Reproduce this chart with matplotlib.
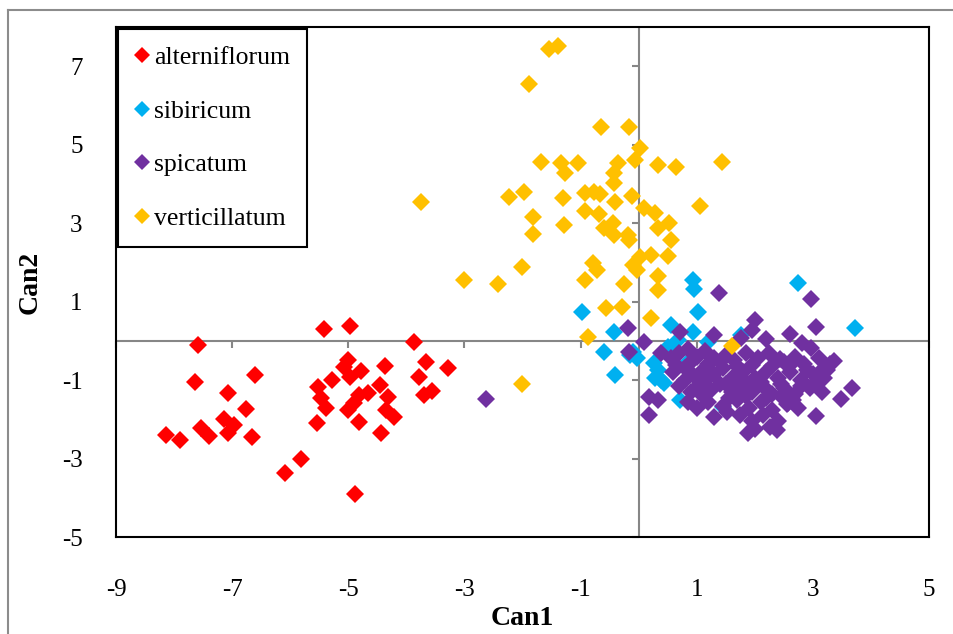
import matplotlib
matplotlib.use("Agg")
import matplotlib.pyplot as plt
from matplotlib.lines import Line2D

# ---------------------------------------------------------------------------
# Data (canonical scores)
# ---------------------------------------------------------------------------
alt_x = [-7.59, -5.42, -4.97, -3.87, -7.64, -6.61, -7.07, -6.76, -7.14, -6.97,
         -7.07, -7.54, -7.40, -8.14, -7.90, -6.66, -5.82, -6.09, -4.89,
         -5.01, -5.08, -4.97, -4.78, -4.37, -5.28, -5.52, -5.47, -5.39, -5.54,
         -4.82, -4.66, -4.90, -5.01, -4.82, -4.46, -4.32, -4.35, -4.22, -4.44,
         -3.67, -3.29, -3.79, -3.70, -3.56]
alt_y = [-0.10, 0.31, 0.38, -0.03, -1.04, -0.87, -1.33, -1.73, -1.99, -2.14,
         -2.34, -2.22, -2.42, -2.40, -2.52, -2.45, -3.01, -3.36, -3.90,
         -0.48, -0.66, -0.91, -0.78, -0.65, -1.00, -1.17, -1.46, -1.72, -2.09,
         -1.37, -1.33, -1.59, -1.76, -2.06, -1.12, -1.43, -1.76, -1.93, -2.34,
         -0.53, -0.69, -0.92, -1.38, -1.27]

sib_x = [0.93, 0.95, 1.02, -0.98, -0.43, -0.60, -0.40, -0.10, -0.03, 0.55,
         0.50, 0.26, 0.38, 2.75, 3.73, 0.93, 1.19, 1.76, 0.34, 0.29,
         0.43, 0.67, 0.72, 1.46, 1.12, -0.15, 0.62, 0.85]
sib_y = [1.55, 1.32, 0.74, 0.74, 0.23, -0.28, -0.87, -0.28, -0.43, 0.41,
         -0.15, -0.56, -0.99, 1.48, 0.33, 0.23, -0.03, 0.15, -0.75, -0.94,
         -1.07, 0.02, -1.50, -1.68, -0.99, -0.35, -0.30, -0.55]

spi_x = [-2.63, -0.19, 0.10, -0.17, 1.38, 0.38, 0.72, 1.29, 0.17, 0.34,
         0.17, 2.96, 2.01, 1.96, 1.76, 2.20, 2.60, 3.05, 2.82, 2.96,
         2.44, 3.36, 3.25, 3.68, 3.48, 3.05, 2.39, 2.27, 1.88, 2.58, 1.53,
         0.55, 0.70, 0.85, 1.00, 1.15, 1.30, 1.50, 1.65, 1.85, 2.05, 2.25, 2.50,
         2.70, 2.85, 3.10, 3.30,
         0.60, 0.80, 0.95, 1.10, 1.30, 1.45, 1.60, 1.80, 2.00, 2.20, 2.40, 2.60,
         2.80, 3.00, 3.20,
         0.70, 0.90, 1.05, 1.25, 1.40, 1.60, 1.75, 1.95, 2.15, 2.30, 2.50, 2.70,
         2.95, 3.15,
         0.85, 1.00, 1.20, 1.45, 1.70, 1.90, 2.10, 2.30, 2.55, 2.75,
         1.30, 1.75, 1.95, 2.15, 2.40, 2.00,
         0.65, 0.90, 1.20, 1.40, 1.70, 1.95, 2.30, 2.60, 2.90, 3.20,
         0.80, 1.15, 1.50, 1.85, 2.10, 2.45, 2.80, 3.05,
         1.10, 1.55, 1.85, 2.20, 2.45, 2.65]
spi_y = [-1.48, 0.33, -0.03, -0.28, 1.22, -0.31, 0.23, 0.15, -1.43, -1.50,
         -1.89, 1.07, 0.54, 0.28, 0.08, 0.05, 0.18, 0.36, -0.05, -0.18,
         -0.46, -0.51, -0.74, -1.20, -1.48, -1.91, -2.27, -2.19, -2.34, -1.58, -1.81,
         -0.45, -0.30, -0.20, -0.40, -0.25, -0.45, -0.35, -0.50, -0.30, -0.45, -0.30, -0.55,
         -0.40, -0.60, -0.45, -0.60,
         -0.80, -0.70, -0.90, -0.75, -0.85, -0.70, -0.95, -0.80, -0.95, -0.80, -0.95, -0.80,
         -1.00, -0.85, -0.95,
         -1.15, -1.30, -1.10, -1.25, -1.10, -1.30, -1.15, -1.30, -1.15, -1.35, -1.20, -1.35,
         -1.20, -1.30,
         -1.55, -1.70, -1.55, -1.65, -1.50, -1.70, -1.55, -1.75, -1.60, -1.70,
         -1.95, -1.90, -2.05, -1.90, -2.05, -2.25,
         -0.62, -0.55, -0.60, -0.55, -0.65, -0.62, -0.65, -0.62, -0.75, -0.70,
         -1.00, -1.02, -1.10, -1.05, -1.05, -1.10, -1.15, -1.05,
         -1.40, -1.45, -1.40, -1.45, -1.40, -1.50]

ver_x = [-1.55, -1.39, -1.89, -0.65, -0.17, 0.03, -0.07, -1.69, -1.33, -1.05,
         -1.26, -0.36, -0.43, -0.43, 0.34, 0.65, 1.43, -2.24, -1.98, -1.31,
         -0.93, -0.77, -0.67, -0.41, -0.12, 0.09, 0.29, 1.05, -1.82, -0.93,
         -0.69, -1.29, -0.45, 0.52, -1.82, -0.60, -0.43, -0.19, -0.17, 0.33,
         0.55, 0.03, 0.21, -0.02, -0.09, 0.50, 0.33, 0.33, -0.79, -0.71,
         -0.93, -0.26, -2.00, -3.01, -2.43, -0.57, -0.28, 0.21, -0.88, -2.00,
         -3.75, 1.60]
ver_y = [7.44, 7.52, 6.55, 5.45, 5.45, 4.92, 4.61, 4.56, 4.54, 4.53,
         4.28, 4.53, 4.28, 4.03, 4.48, 4.43, 4.56, 3.67, 3.80, 3.64,
         3.77, 3.80, 3.75, 3.54, 3.69, 3.39, 3.26, 3.44, 3.16, 3.31,
         3.24, 2.96, 3.01, 3.01, 2.73, 2.88, 2.70, 2.70, 2.57, 2.88,
         2.57, 2.14, 2.19, 1.81, 1.94, 2.17, 1.66, 1.30, 1.98, 1.81,
         1.55, 1.45, 1.89, 1.55, 1.45, 0.84, 0.87, 0.59, 0.10, -1.10,
         3.54, -0.13]

SERIES = [
    ("alterniflorum", alt_x, alt_y, "#FF0000"),
    ("sibiricum", sib_x, sib_y, "#00B0F0"),
    ("spicatum", spi_x, spi_y, "#7030A0"),
    ("verticillatum", ver_x, ver_y, "#FFC000"),
]
X_TICKS = [-9, -7, -5, -3, -1, 1, 3, 5]
Y_TICKS = [-5, -3, -1, 1, 3, 5, 7]

# ---------------------------------------------------------------------------
# Figure
# ---------------------------------------------------------------------------
plt.rcParams["font.family"] = ["Liberation Serif", "DejaVu Serif"]
plt.rcParams["axes.unicode_minus"] = False

fig = plt.figure(figsize=(9.54, 6.34), dpi=100)
ax = fig.add_axes([116 / 954, 1 - 537 / 634, 813 / 954, 510 / 634])

# outer chart-area border (left and top edges visible)
fig.add_artist(Line2D([8 / 954, 8 / 954], [0, 1 - 10 / 634], transform=fig.transFigure,
                      color="#8c8c8c", lw=1.5))
fig.add_artist(Line2D([8 / 954, 1], [1 - 10 / 634, 1 - 10 / 634], transform=fig.transFigure,
                      color="#8c8c8c", lw=1.5))

ax.set_xlim(-9, 5)
ax.set_ylim(-5, 8)

# zero axes with their own tick marks
ax.axhline(0, color="#868686", lw=1.5, zorder=1)
ax.axvline(0, color="#868686", lw=1.5, zorder=1)
ax.plot(X_TICKS, [0] * len(X_TICKS), linestyle="none", marker=3, markersize=5,
        mew=1.5, color="#868686", zorder=1, clip_on=False)
ax.plot([0] * len(Y_TICKS), Y_TICKS, linestyle="none", marker=0, markersize=5,
        mew=1.5, color="#868686", zorder=1, clip_on=False)

for name, xs, ys, col in SERIES:
    ax.plot(xs, ys, linestyle="none", marker="D", markersize=9, mew=0,
            color=col, label=name, zorder=3)

ax.set_xticks(X_TICKS)
ax.set_yticks(Y_TICKS)
ax.tick_params(axis="x", length=0, pad=30, labelsize=18)
ax.tick_params(axis="y", length=0, pad=24, labelsize=18)
for s in ax.spines.values():
    s.set_color("black")
    s.set_linewidth(1.5)

ax.set_xlabel("Can1", fontsize=20, fontweight="bold", labelpad=4)
ax.set_ylabel("Can2", fontsize=20, fontweight="bold", labelpad=14)

leg = ax.legend(loc="upper left", bbox_to_anchor=(0.0025, 0.996), fontsize=18.5,
                frameon=True, fancybox=False, edgecolor="black", framealpha=1,
                borderaxespad=0, borderpad=0.65, labelspacing=1.2,
                handlelength=0.6, handletextpad=0.15, markerscale=0.9)
leg.get_frame().set_linewidth(1.5)

fig.savefig("out.png", dpi=100)
